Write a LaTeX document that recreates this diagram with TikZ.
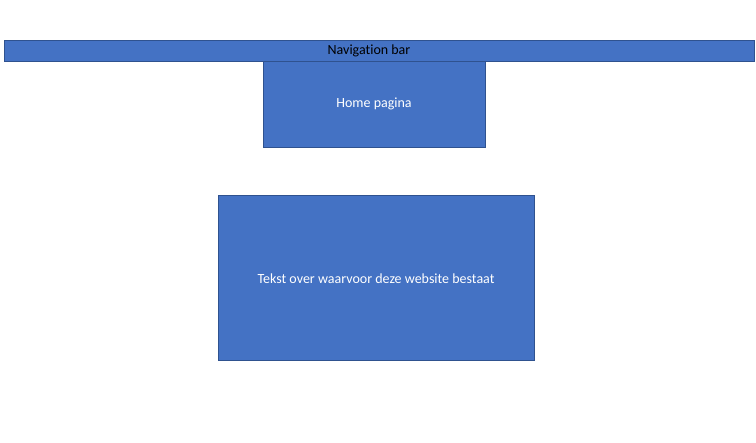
\documentclass[tikz,border=0pt]{standalone}
\usepackage{fontspec}
\setmainfont[RawFeature=-liga]{Carlito}
\definecolor{boxfill}{HTML}{4472C4}
\definecolor{boxline}{HTML}{2F528F}
\begin{document}
\begin{tikzpicture}[x=1pt,y=-1pt,
  block/.style={draw=boxline,fill=boxfill,line width=0.8pt,inner sep=0pt},
  label/.style={font=\fontsize{14}{16}\selectfont,text=white}]
\useasboundingbox[fill=white] (0,0) rectangle (756,443);
% navigation bar across the top
\draw[block] (4,40) rectangle (754,61);
\node[label,text=black] (nav) at (369,50.5) {Navigation bar};
% home page block under the bar
\draw[block] (263,61) rectangle (485,147);
\node[label] (home) at (374,103.5) {Home pagina};
% content block
\draw[block] (218,195) rectangle (534,360);
\node[label] (about) at (376,278.5) {Tekst over waarvoor deze website bestaat};
\end{tikzpicture}
\end{document}
